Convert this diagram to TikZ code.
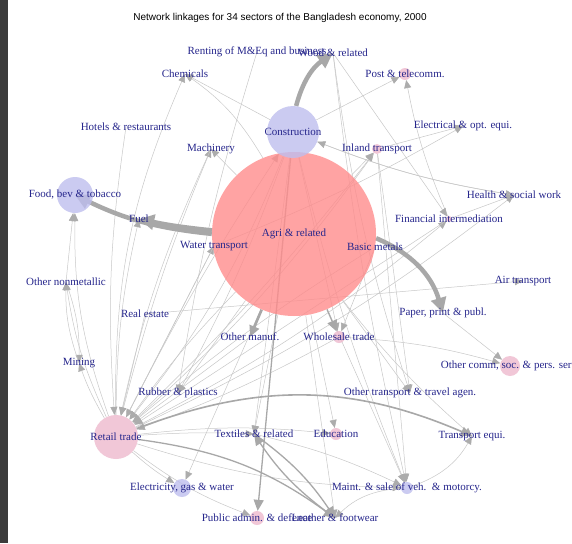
\documentclass[tikz,border=0pt]{standalone}
\usepackage{fontspec}
\setmainfont{Liberation Serif}
\newfontfamily\titlefont{Liberation Sans}
\usetikzlibrary{arrows.meta}
\pgfdeclarelayer{links}
\pgfsetlayers{links,main}
\definecolor{lblblue}{RGB}{38,38,140}
\definecolor{vpink}{RGB}{255,140,140}
\definecolor{vrose}{RGB}{238,185,205}
\definecolor{vlav}{RGB}{190,190,238}
\definecolor{lgray}{RGB}{200,200,200}
\definecolor{tipgray}{RGB}{172,172,172}
\definecolor{mgray}{RGB}{168,168,168}
\definecolor{strip}{RGB}{60,60,60}

\begin{document}
\begin{tikzpicture}[x=1pt,y=-1pt,
  vtx/.style={circle, inner sep=0pt, draw=none, fill opacity=0.8},
  lbl/.style={text=lblblue, font=\fontsize{11}{12}\selectfont, inner sep=0pt},
  lnk/.style={draw=lgray, line width=0.5pt, -{Triangle[length=8pt,width=7pt,color=tipgray]}},
  midlnk/.style={draw=mgray, -{Triangle[length=11pt,width=10pt]}},
  fatlnk/.style={draw=mgray, line width=4.5pt, -{Triangle[length=15pt,width=15pt]}}]
  \useasboundingbox (0,0) rectangle (572,543);

  % sectors: name / x / y / radius / colour
  \foreach \n/\x/\y/\r/\c in {
    agri/294/234/82/vpink, constr/293/132/26/vlav, wood/333/53/0/none,
    renting/257/52/0/none, chem/185/74/0/none, post/405/74/6/vrose,
    hotels/126/127/0/none, elec/463/126/0/none, mach/211/149/0/none,
    inland/377/149/5/vrose, food/75/195/18/vlav, health/514/195/0/none,
    fuel/139/219/0/none, fin/449/219/3/vrose, water/214/246/0/none,
    basic/375/247/0/none, nonmet/66/282/0/none, air/523/281/0/none,
    realest/145/314/0/none, paper/443/313/0/none, omanuf/250/337/0/none,
    whole/339/337/6/vrose, mining/79/363/0/none, ocomm/510/366/10/vrose,
    rubber/178/393/0/none, otrans/410/393/0/none, retail/116/437/22/vrose,
    textiles/254/434/0/none, educ/336/434/6/vrose, tequi/472/436/0/none,
    elecgas/182/488/9/vlav, maint/407/488/6/vlav, pubadm/257/518/7/vrose,
    leather/335/518/0/none}
    \node[vtx, minimum size={2*\r}, fill=\c] (\n) at (\x,\y) {};

  \foreach \n/\t in {
    agri/{Agri \& related}, constr/{Construction}, renting/{Renting of M\&Eq and business},
    wood/{Wood \& related}, chem/{Chemicals}, post/{Post \& telecomm.},
    hotels/{Hotels \& restaurants}, elec/{Electrical \& opt. equi.}, mach/{Machinery},
    inland/{Inland transport}, food/{Food, bev \& tobacco}, health/{Health \& social work},
    fuel/{Fuel}, fin/{Financial intermediation}, water/{Water transport},
    basic/{Basic metals}, nonmet/{Other nonmetallic}, air/{Air transport},
    realest/{Real estate}, paper/{Paper, print \& publ.}, omanuf/{Other manuf.},
    whole/{Wholesale trade}, mining/{Mining}, ocomm/{Other comm, soc. \& pers. serv.},
    rubber/{Rubber \& plastics}, otrans/{Other transport \& travel agen.},
    retail/{Retail trade}, textiles/{Textiles \& related}, educ/{Education},
    tequi/{Transport equi.}, elecgas/{Electricity, gas \& water},
    maint/{Maint. \& sale of veh.\ \ \& motorcy.}, pubadm/{Public admin. \& defence},
    leather/{Leather \& footwear}}
    \node[lbl] (\n-l) at (\n) {\t};

  \node[font=\titlefont\fontsize{10}{12}\selectfont] (title) at (280,18)
    {Network linkages for 34 sectors of the Bangladesh economy, 2000};

  \begin{pgfonlayer}{links}
    \fill[white] (0,0) rectangle (572,543);
    \fill[strip] (0,0) rectangle (7.5,543);
    % thin links
    \foreach \a/\b/\bd in {
      retail/mining/5, retail/nonmet/8, retail/food/10, nonmet/mining/10, mining/nonmet/10,
      retail/elecgas/-5, retail/textiles/3, retail/educ/6, retail/maint/-8, retail/chem/12,
      retail/mach/4, retail/water/0, retail/fuel/6, retail/inland/-4, retail/fin/-6,
      retail/pubadm/-8, retail/constr/3, retail/health/-6,
      agri/retail/-4, constr/retail/8, mach/retail/-6, inland/retail/6, water/retail/0,
      realest/retail/0, omanuf/retail/0, whole/retail/4, basic/retail/-4, fin/retail/0,
      hotels/retail/-6, renting/rubber/-4,
      agri/rubber/0, constr/rubber/4, agri/textiles/0, agri/leather/0, agri/maint/0,
      constr/maint/-4, inland/maint/0, wood/maint/-3, agri/tequi/-5, constr/whole/0,
      agri/inland/0, agri/mach/0, agri/chem/-12, agri/educ/0, agri/elecgas/0, agri/otrans/0,
      constr/chem/0, constr/health/-6, constr/post/0, constr/textiles/0,
      inland/elec/0, water/elec/-4, fin/health/0, fin/post/6, wood/fin/0, wood/otrans/-5,
      whole/ocomm/6, paper/ocomm/0, realest/air/0, inland/otrans/0, maint/tequi/-20,
      maint/leather/-20, textiles/maint/6, basic/whole/0, nonmet/food/0, health/constr/6}
      \draw[lnk] (\a) to[bend left=\bd] (\b);
    % stronger links
    \foreach \a/\b/\bd/\w in {
      retail/tequi/22/1.6, retail/leather/14/1.3, textiles/leather/10/1.3,
      leather/textiles/10/1.3, constr/pubadm/0/1.3, agri/whole/0/1.2, agri/omanuf/0/2.6}
      \draw[midlnk, line width=\w pt] (\a) to[bend left=\bd] (\b);
    \foreach \a/\b/\bd in {agri/fuel/3, constr/wood/20, agri/paper/25}
      \draw[fatlnk] (\a) to[bend left=\bd] (\b);
    \draw[fatlnk] (agri) to[bend left=10] (food.center);
  \end{pgfonlayer}
\end{tikzpicture}
\end{document}
